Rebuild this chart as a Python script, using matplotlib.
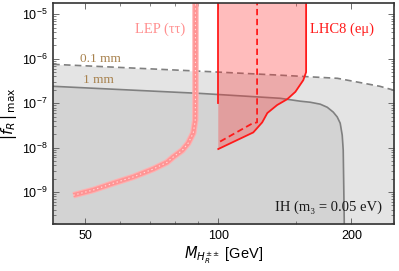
import numpy as np
import matplotlib
matplotlib.use("Agg")
import matplotlib.pyplot as plt
from matplotlib.ticker import FixedLocator, NullFormatter, FixedFormatter, LogLocator

# ── data (mass in GeV, |f_R|_max) ────────────────────────────────────────────
# 0.1 mm displaced-vertex line (dashed, upper edge of light grey region)
dv01_m = [42.3, 91, 138, 186, 213, 232, 250]
dv01_f = [7.5e-7, 5.25e-7, 4.27e-7, 3.63e-7, 2.82e-7, 2.4e-7, 1.95e-7]

# 1 mm displaced-vertex line (solid, upper edge of dark grey region)
dv1_m = [42.3, 91, 138, 153.2, 161.5, 170.1, 176.4, 182.0, 185.8, 188.7,
         190.7, 191.7, 192.3, 192.8]
dv1_f = [2.4e-7, 1.66e-7, 1.29e-7, 1.11e-7, 1.05e-7, 9.5e-8, 8.1e-8, 6.3e-8,
         4.9e-8, 3.55e-8, 1.9e-8, 8.7e-9, 1e-9, 1.6e-10]

# LEP (tau tau) band
lep_m = [47.0, 52.1, 57.9, 64.2, 71.3, 76.6, 79.1, 82.9, 85.5, 87.8, 88.7, 88.8, 88.8]
lep_f = [8.5e-10, 1.11e-9, 1.58e-9, 2.19e-9, 3.31e-9, 4.68e-9, 6.17e-9,
         8.7e-9, 1.26e-8, 2.14e-8, 4.17e-8, 1.26e-7, 3e-5]

# LHC8 (e mu): right/lower boundary (solid) and dashed line
lhc_m = [158, 158, 155.7, 149.4, 143.2, 135.9, 129.1, 125.7, 120, 100]
lhc_f = [3e-5, 5.0e-7, 3.3e-7, 1.8e-7, 1.23e-7, 9.1e-8, 6.0e-8, 3.7e-8, 2.2e-8, 9.3e-9]
lhc_left_f = [3e-5, 1.0e-7]          # solid left edge at 100 GeV
lhc_dash_m = [122.4, 122.4, 119.4, 100]
lhc_dash_f = [3e-5, 3.7e-8, 3.5e-8, 1.3e-8]

# ── plot ──────────────────────────────────────────────────────────────────────
fig = plt.figure(figsize=(3.99, 2.71), dpi=100)
ax = fig.add_axes([0.133, 0.173, 0.855, 0.816])
ax.set_xscale("log")
ax.set_yscale("log")
ax.set_xlim(42.3, 250)
ax.set_ylim(1.9e-10, 1.8e-5)

# grey excluded regions
ax.fill_between(dv01_m, 1e-12, dv01_f, color="#e4e4e4", lw=0, zorder=1)
ax.fill_between(dv1_m, 1e-12, dv1_f, color="#d3d3d3", lw=0, zorder=1)
ax.plot(dv01_m, dv01_f, color="#808080", lw=1.2, ls=(0, (4, 2.5)), zorder=2)
ax.plot(dv1_m, dv1_f, color="#808080", lw=1.2, zorder=2)

# LEP band
ax.plot(lep_m, lep_f, color="#ffb0b0", lw=4.6, solid_capstyle="butt", zorder=3)
ax.plot(lep_m, lep_f, color="#ff9494", lw=3.0, solid_capstyle="butt", zorder=3)
ax.plot(lep_m, lep_f, color="#ffdede", lw=0.8, ls=(0, (1.2, 2.5)), zorder=3)

# LHC8 region
ax.fill(lhc_m + [100], lhc_f + [3e-5], color="#ff3030", alpha=0.32, lw=0, zorder=4)
ax.plot(lhc_m, lhc_f, color="#ff1a1a", lw=1.3, zorder=5)
ax.plot([100, 100], lhc_left_f, color="#ff1a1a", lw=1.3, zorder=5)
ax.plot(lhc_dash_m, lhc_dash_f, color="#ff1a1a", lw=1.3, ls=(0, (3.5, 2)), zorder=5)

# labels
serif = ["Liberation Serif", "DejaVu Serif"]
ax.text(74, 4.6e-6, "LEP (ττ)", color="#ff9090", fontsize=10.5, family=serif,
        ha="center", va="center", zorder=6)
ax.text(190, 4.6e-6, "LHC8 (eμ)", color="#ff1a1a", fontsize=10.5, family=serif,
        ha="center", va="center", zorder=6)
ax.text(54, 9.8e-7, "0.1 mm", color="#a8824e", fontsize=9.5, family=serif,
        ha="center", va="center", zorder=6)
ax.text(53.6, 3.3e-7, "1 mm", color="#a8824e", fontsize=9.5, family=serif,
        ha="center", va="center", zorder=6)
ax.text(0.965, 0.075, "IH (m₃ = 0.05 eV)", transform=ax.transAxes, color="#1a1a1a",
        fontsize=10.5, family=serif, ha="right", va="center", zorder=6)

# ticks
ax.xaxis.set_major_locator(FixedLocator([50, 100, 200]))
ax.xaxis.set_major_formatter(FixedFormatter(["50", "100", "200"]))
ax.xaxis.set_minor_locator(FixedLocator([60, 70, 80, 90, 150, 250]))
ax.xaxis.set_minor_formatter(NullFormatter())
ax.yaxis.set_major_locator(LogLocator(base=10, numticks=20))
ax.yaxis.set_minor_locator(LogLocator(base=10, subs=np.arange(2, 10), numticks=20))
ax.yaxis.set_minor_formatter(NullFormatter())
ax.tick_params(which="both", direction="in", top=True, right=True,
               labelsize=9, colors="#555555", labelcolor="black", pad=4)
ax.tick_params(which="major", length=4, width=0.6)
ax.tick_params(which="minor", length=2, width=0.5)
for lab in ax.get_xticklabels() + ax.get_yticklabels():
    lab.set_family("Liberation Sans")
for s in ax.spines.values():
    s.set_linewidth(1.2)
    s.set_color("#333333")
    s.set_zorder(10)

ax.set_xlabel(r"$M_{H_R^{\pm\pm}}$ [GeV]", fontsize=10.5, family="Liberation Sans", labelpad=2)
ax.set_ylabel(r"$|f_R\,|_{\,\mathrm{max}}$", fontsize=11, labelpad=2)

fig.savefig("out.png", dpi=100)
